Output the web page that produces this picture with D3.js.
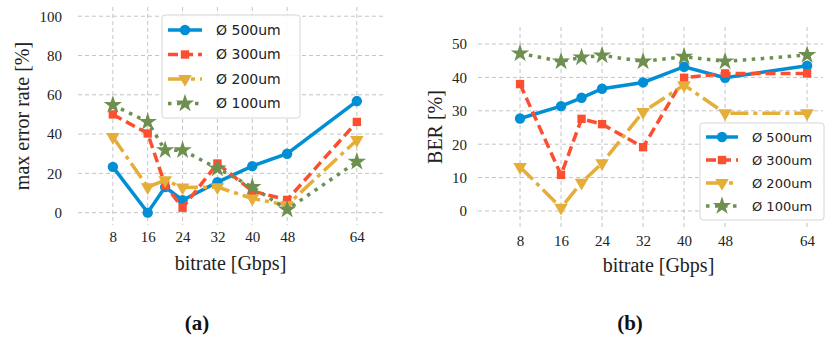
<!DOCTYPE html>
<html>
<head>
<meta charset="utf-8">
<script src="https://cdn.jsdelivr.net/npm/d3@7"></script>
<style>
  body { margin: 0; background: #fff; }
  svg { display: block; }
</style>
</head>
<body>
<script>
// bitrate values on x, two panels: (a) max error rate, (b) BER
const bitrate = [8, 16, 20, 24, 32, 40, 48, 64];
const xTicks = [8, 16, 24, 32, 40, 48, 64];
const seriesNames = ["Ø 500um", "Ø 300um", "Ø 200um", "Ø 100um"];

const err500 = [23.3, 0, 13, 6.3, 15.5, 23.7, 30, 56.8];
const err300 = [50, 40.3, 14, 2.5, 25, 11, 6.5, 46.2];
const err200 = [38.5, 13, 16.5, 12.8, 13, 7.2, 3.8, 37];
const err100 = [54.8, 46.2, 31.8, 31.8, 22.5, 13, 1.6, 25.9];
const errTicks = [0, 20, 40, 60, 80, 100];

const ber500 = [27.7, 31.4, 33.9, 36.6, 38.5, 43.2, 39.9, 43.5];
const ber300 = [38, 10.8, 27.6, 26, 19.1, 39.9, 41.2, 41.2];
const ber200 = [13.2, 1, 8.5, 14.3, 29.7, 37.7, 29.3, 29.3];
const ber100 = [47.2, 44.8, 46, 46.6, 44.8, 46.2, 44.8, 46.7];
const berTicks = [0, 10, 20, 30, 40, 50];

const colors = ["#008fd5", "#fc4f30", "#e5ae38", "#6d904f"];
const dashes = [null, "10,5", "18,5,4,5", "3.5,5.5"];
const symbols = [d3.symbolCircle, d3.symbolSquare, d3.symbolTriangle, d3.symbolStar];
const symSize = [85, 70, 80, 105];

const svg = d3.select("body").append("svg")
  .attr("width", 825).attr("height", 337);

const serif = "'Liberation Serif', serif";

function drawPanel(cfg) {
  const x = d3.scaleLinear().domain(cfg.xDomain).range([cfg.left, cfg.right]);
  const y = d3.scaleLinear().domain(cfg.yDomain).range([cfg.bottom, cfg.top]);
  const g = svg.append("g");

  // grid
  g.selectAll(".hg").data(cfg.yTicks).join("line")
    .attr("x1", cfg.left).attr("x2", cfg.right)
    .attr("y1", d => y(d)).attr("y2", d => y(d))
    .attr("stroke", "#c4c4c4").attr("stroke-width", 1).attr("stroke-dasharray", "4,3");
  g.selectAll(".vg").data(xTicks).join("line")
    .attr("x1", d => x(d)).attr("x2", d => x(d))
    .attr("y1", cfg.top).attr("y2", cfg.bottom)
    .attr("stroke", "#c4c4c4").attr("stroke-width", 1).attr("stroke-dasharray", "4,3");

  // axes (no domain line, no tick marks)
  const yAxis = g.append("g").attr("transform", `translate(${cfg.yTickEnd},0)`)
    .call(d3.axisLeft(y).tickValues(cfg.yTicks).tickSize(0).tickPadding(0));
  const xAxis = g.append("g").attr("transform", `translate(0,${cfg.xTickTop})`)
    .call(d3.axisBottom(x).tickValues(xTicks).tickSize(0).tickPadding(0));
  [xAxis, yAxis].forEach(a => {
    a.select(".domain").remove();
    a.selectAll("text").attr("font-family", serif).attr("font-size", 15).attr("fill", "#222");
  });

  // lines and markers
  const line = d3.line().x((d, i) => x(bitrate[i])).y(d => y(d));
  cfg.series.forEach((vals, s) => {
    g.append("path").datum(vals)
      .attr("d", line).attr("fill", "none")
      .attr("stroke", colors[s]).attr("stroke-width", 3.5)
      .attr("stroke-dasharray", dashes[s]);
    g.selectAll(".m" + s).data(vals).join("path")
      .attr("d", d3.symbol(symbols[s], symSize[s]))
      .attr("transform", (d, i) => `translate(${x(bitrate[i])},${y(d)})` + (s === 2 ? " rotate(180)" : ""))
      .attr("fill", colors[s]);
  });

  // axis labels
  svg.append("text").attr("x", (cfg.left + cfg.right) / 2 + cfg.xLabelShift).attr("y", cfg.xLabelY)
    .attr("text-anchor", "middle").attr("font-family", serif).attr("font-size", 20)
    .attr("fill", "#222").text("bitrate [Gbps]");
  svg.append("text")
    .attr("transform", `translate(${cfg.yLabelX},${(cfg.top + cfg.bottom) / 2}) rotate(-90)`)
    .attr("text-anchor", "middle").attr("font-family", serif).attr("font-size", 20)
    .attr("fill", "#222").text(cfg.yLabel);
  svg.append("text").attr("x", cfg.captionX).attr("y", 330)
    .attr("text-anchor", "middle").attr("font-family", serif).attr("font-size", 21)
    .attr("font-weight", "bold").attr("fill", "#111").text(cfg.caption);

  // legend
  const L = cfg.legend;
  const lg = svg.append("g").attr("transform", `translate(${L.x},${L.y})`);
  lg.append("rect").attr("width", L.w).attr("height", L.h).attr("rx", 3)
    .attr("fill", "rgba(255,255,255,0.9)").attr("stroke", "#d6d6d6");
  seriesNames.forEach((name, s) => {
    const ry = L.pad + s * L.step;
    lg.append("line").attr("x1", 6).attr("x2", 6 + L.sample).attr("y1", ry).attr("y2", ry)
      .attr("stroke", colors[s]).attr("stroke-width", 3.5).attr("stroke-dasharray", dashes[s]);
    lg.append("path").attr("d", d3.symbol(symbols[s], symSize[s]))
      .attr("transform", `translate(${6 + L.sample / 2},${ry})` + (s === 2 ? " rotate(180)" : ""))
      .attr("fill", colors[s]);
    lg.append("text").attr("x", L.textX).attr("y", ry).attr("dy", "0.35em")
      .attr("font-family", "'DejaVu Sans', sans-serif").attr("font-size", L.font)
      .attr("fill", "#222").text(name);
  });
}

drawPanel({
  left: 78, right: 383, top: 7, bottom: 225,
  xDomain: [0, 70], yDomain: [-6.3, 104.7], yTicks: errTicks,
  yTickEnd: 62, xTickTop: 231,
  series: [err500, err300, err200, err100],
  yLabel: "max error rate [%]", yLabelX: 29, xLabelShift: 0, xLabelY: 270,
  caption: "(a)", captionX: 197,
  legend: { x: 162, y: 15, w: 138, h: 103, pad: 15, step: 24.5, sample: 34, textX: 54, font: 14 }
});

drawPanel({
  left: 478, right: 823, top: 27, bottom: 227,
  xDomain: [-0.2, 67.1], yDomain: [-4.8, 55.1], yTicks: berTicks,
  yTickEnd: 467, xTickTop: 235,
  series: [ber500, ber300, ber200, ber100],
  yLabel: "BER [%]", yLabelX: 442, xLabelShift: 8, xLabelY: 272,
  caption: "(b)", captionX: 630,
  legend: { x: 700, y: 123, w: 124, h: 97, pad: 14, step: 23, sample: 32, textX: 52, font: 13 }
});
</script>
</body>
</html>
